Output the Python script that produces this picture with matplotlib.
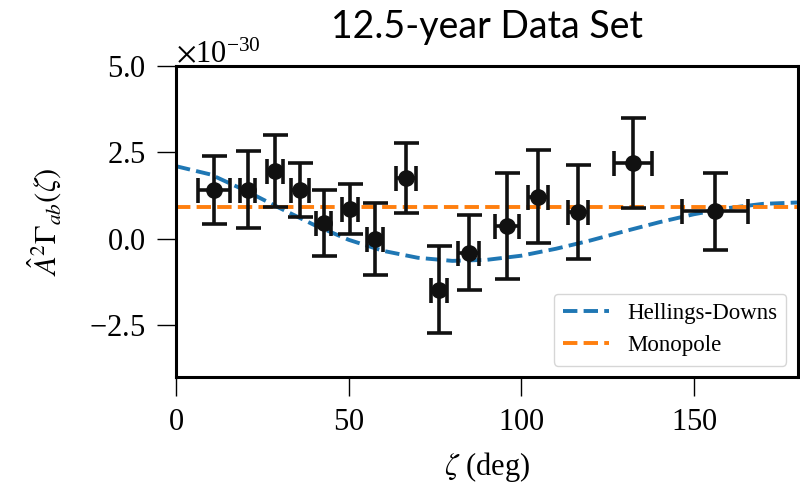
import matplotlib
matplotlib.use("Agg")
import matplotlib.pyplot as plt

plt.rcParams["font.family"] = "Liberation Serif"
plt.rcParams["mathtext.fontset"] = "stix"
plt.rcParams["axes.formatter.use_mathtext"] = True

# binned cross-correlations (units of 1e-30)
zeta = [11.0, 20.8, 28.7, 35.9, 42.8, 50.4, 57.6, 66.6, 76.1, 84.8,
        95.8, 104.8, 116.4, 132.3, 156.1]
zeta_err = [4.5, 2.2, 2.3, 2.5, 2.2, 2.3, 2.2, 2.9, 2.3, 3.0,
            3.5, 3.0, 3.0, 5.5, 9.6]
corr = [1.42, 1.42, 1.97, 1.42, 0.46, 0.87, 0.0, 1.76, -1.47, -0.40,
        0.37, 1.22, 0.76, 2.19, 0.79]
corr_err = [0.98, 1.11, 1.04, 0.78, 0.95, 0.72, 1.04, 1.01, 1.26, 1.08,
            1.53, 1.34, 1.36, 1.30, 1.11]

# model curves
hd_zeta = [0, 10, 20, 30, 40, 50, 60, 70, 80, 90, 100, 110, 120, 130,
           140, 150, 160, 170, 180]
hd_val = [2.10, 1.86, 1.40, 0.89, 0.40, -0.03, -0.35, -0.55, -0.64, -0.61,
          -0.49, -0.29, -0.05, 0.22, 0.48, 0.71, 0.89, 1.01, 1.05]
mono_zeta = [0, 180]
mono_val = [0.92, 0.92]

scale = 1e-30

fig = plt.figure(figsize=(8, 4.88), dpi=100)
ax = fig.add_axes([0.22, 0.2275, 0.777, 0.6373])

ax.plot(hd_zeta, [v * scale for v in hd_val], "--", color="tab:blue",
        lw=2.8, label="Hellings-Downs")
ax.plot(mono_zeta, [v * scale for v in mono_val], "--", color="tab:orange",
        lw=2.8, label="Monopole")
ax.errorbar(zeta, [v * scale for v in corr], xerr=zeta_err,
            yerr=[v * scale for v in corr_err], fmt="o", color="#111111",
            ms=11, elinewidth=2.6, capsize=9, capthick=2.6, zorder=3)

ax.set_xlim(0, 180)
ax.set_ylim(-4e-30, 5e-30)
ax.set_xticks([0, 50, 100, 150])
ax.set_yticks([-2.5e-30, 0, 2.5e-30, 5e-30])
ax.tick_params(labelsize=22, length=14, width=1.0, pad=8,
               top=False, right=False)
ax.yaxis.get_offset_text().set_fontsize(22)
for s in ax.spines.values():
    s.set_linewidth(2.2)

ax.set_xlabel(r"$\zeta$ (deg)", fontsize=22, labelpad=10)
ax.set_ylabel(r"$\hat{A}^2\Gamma_{ab}(\zeta)$", fontsize=22, labelpad=18)
ax.set_title("12.5-year Data Set", fontsize=27, family="Lato", pad=20)
ax.legend(loc="lower right", fontsize=16.5)

fig.savefig("out.png", dpi=100)
